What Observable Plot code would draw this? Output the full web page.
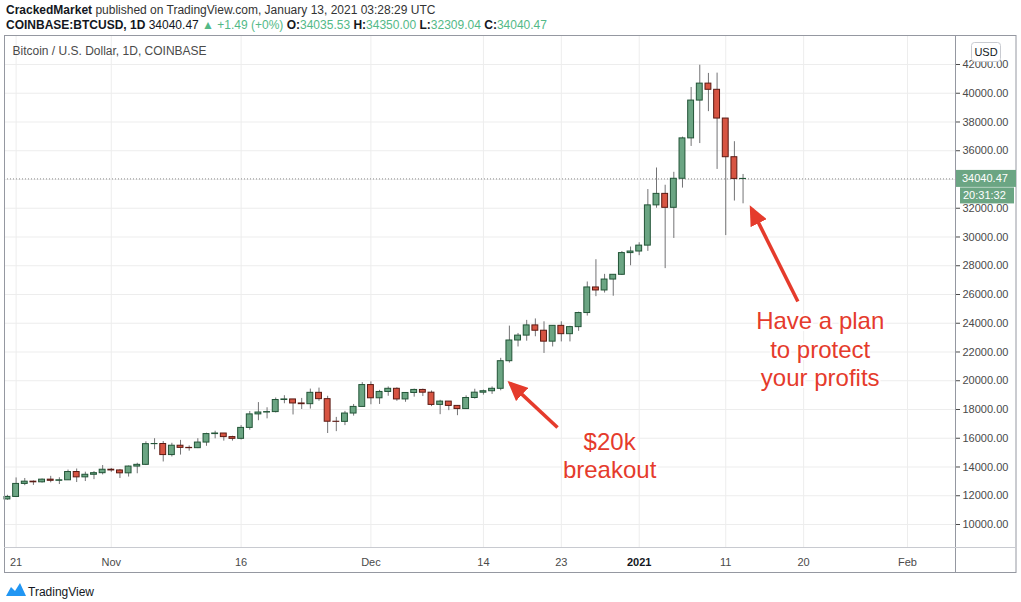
<!DOCTYPE html>
<html><head><meta charset="utf-8">
<script src="https://cdn.jsdelivr.net/npm/d3@7"></script>
<script src="https://cdn.jsdelivr.net/npm/@observablehq/plot@0.6"></script>
<style>
body{margin:0;background:#fff;font-family:"Liberation Sans",Arial,sans-serif;color:#131722;}
#hdr{height:35px;position:relative;font-size:12px;}
#hdr div{position:absolute;left:6px;white-space:nowrap;}
#l1{top:3px;color:#333;}
#l2{top:18px;color:#131722;}
.g{color:#53b987;}
#chart svg{display:block;}
#ftr{height:27px;position:relative;}
#ftr svg{position:absolute;left:6px;top:7px;}
#ftr span{position:absolute;left:28px;top:10px;font-size:12px;color:#131722;}
</style></head><body>
<div id="hdr">
<div id="l1"><b style="color:#131722">CrackedMarket</b> published on TradingView.com, January 13, 2021 03:28:29 UTC</div>
<div id="l2"><b>COINBASE:BTCUSD, 1D</b> 34040.47 <span class="g">▲ +1.49 (+0%)</span> <b>O:</b><span class="g">34035.53</span> <b>H:</b><span class="g">34350.00</span> <b>L:</b><span class="g">32309.04</span> <b>C:</b><span class="g">34040.47</span></div>
</div>
<div id="chart"></div>
<div id="ftr"><svg width="20" height="14" viewBox="0 0 20 14"><path d="M0,14 L5,5 L9,9 L14,1 L20,14 Z" fill="#2196f3"/></svg><span>TradingView</span></div>
<script>
// ---- data ----
const dates = ["2020-10-20","2020-10-21","2020-10-22","2020-10-23","2020-10-24","2020-10-25","2020-10-26","2020-10-27","2020-10-28","2020-10-29","2020-10-30","2020-10-31",
"2020-11-01","2020-11-02","2020-11-03","2020-11-04","2020-11-05","2020-11-06","2020-11-07","2020-11-08","2020-11-09","2020-11-10","2020-11-11","2020-11-12","2020-11-13","2020-11-14","2020-11-15","2020-11-16","2020-11-17","2020-11-18","2020-11-19","2020-11-20","2020-11-21","2020-11-22","2020-11-23","2020-11-24","2020-11-25","2020-11-26","2020-11-27","2020-11-28","2020-11-29","2020-11-30",
"2020-12-01","2020-12-02","2020-12-03","2020-12-04","2020-12-05","2020-12-06","2020-12-07","2020-12-08","2020-12-09","2020-12-10","2020-12-11","2020-12-12","2020-12-13","2020-12-14","2020-12-15","2020-12-16","2020-12-17","2020-12-18","2020-12-19","2020-12-20","2020-12-21","2020-12-22","2020-12-23","2020-12-24","2020-12-25","2020-12-26","2020-12-27","2020-12-28","2020-12-29","2020-12-30","2020-12-31",
"2021-01-01","2021-01-02","2021-01-03","2021-01-04","2021-01-05","2021-01-06","2021-01-07","2021-01-08","2021-01-09","2021-01-10","2021-01-11","2021-01-12","2021-01-13"];
const open  = [11745,11916,12823,12980,12935,13120,13040,13075,13650,13280,13460,13570,
13810,13760,13560,14030,14150,15590,15600,14830,15480,15330,15310,15700,16290,16330,16080,15960,16720,17660,17790,17820,18660,18700,18420,18370,19160,18720,17150,17140,17720,18180,
19700,18780,19220,19440,18700,19150,19360,19170,18320,18550,18250,18030,18800,19170,19270,19440,21360,22800,23140,23850,23480,22720,23820,23240,23730,24710,26490,26280,27040,27370,28880,
28990,29400,32200,33000,32030,34050,36860,39490,40670,40240,38240,35550,34035.53];
const high  = [12030,13240,13200,13030,13170,13350,13250,13790,13860,13640,13680,14100,
13900,13830,14070,14260,15750,15970,15770,15650,15850,15470,15970,16350,16490,16330,16140,16880,17860,18480,18120,18800,18960,18700,18770,19420,19490,18920,17450,17870,18350,19870,
19920,19330,19570,19510,19180,19420,19420,19290,18640,18560,18270,18950,19410,19350,19570,21560,23800,23290,24200,24300,24100,23840,24100,23790,24770,26870,28420,27400,27370,28990,29300,
29600,33300,34800,33600,34500,36950,40400,41950,41380,41400,38240,36630,34350];
const low   = [11685,11900,12700,12720,12880,12900,12780,13060,12920,12990,13120,13450,
13630,13200,13300,13530,14100,15200,14350,14700,14830,15100,15280,15440,15960,15800,15800,15880,16560,17220,17350,17760,18400,17620,18000,18030,18570,16330,16460,16880,17540,18180,
18330,18350,18920,18570,18500,18860,18900,18200,17640,17920,17570,18010,18720,19000,19050,19300,21230,22350,22750,23060,21900,22350,22700,22700,23440,24500,25850,26100,25880,27320,28000,
28700,29000,32000,27800,29900,33400,36300,36500,38720,34700,30100,32500,32309.04];
const close = [11916,12823,12980,12935,13120,13040,13075,13650,13280,13460,13570,13810,
13760,13560,14030,14150,15590,15600,14830,15480,15330,15310,15700,16290,16330,16080,15960,16720,17660,17790,17820,18660,18700,18420,18370,19160,18720,17150,17140,17720,18180,19700,
18780,19220,19440,18700,19150,19360,19170,18320,18550,18250,18030,18800,19170,19270,19440,21360,22800,23140,23850,23480,22720,23820,23240,23730,24710,26490,26280,27040,27370,28880,28990,
29400,32200,33000,32030,34050,36860,39490,40670,40240,38240,35550,34040,34040.47];

const yTicks = [10000,12000,14000,16000,18000,20000,22000,24000,26000,28000,30000,32000,34000,36000,38000,40000,42000];
const xTickDates  = ["2020-10-21","2020-11-01","2020-11-16","2020-12-01","2020-12-14","2020-12-23","2021-01-01","2021-01-11","2021-01-20","2021-02-01"];
const xTickLabels = ["21","Nov","16","Dec","14","23","2021","11","20","Feb"];

const chartTitle = "Bitcoin / U.S. Dollar, 1D, COINBASE";
const lastPrice = 34040.47;
const countdown = "20:31:32";

const arrowsData = [
  {x1:"2020-12-22T13:30Z", y1:16750, x2:"2020-12-17T03:00Z", y2:19800},
  {x1:"2021-01-19T08:00Z", y1:25510, x2:"2021-01-13T23:30Z", y2:31960}
];
const notes = [
  {x:"2020-12-28T14:00Z", y:14830, text:"$20k\nbreakout"},
  {x:"2021-01-21T22:00Z", y:22240, text:"Have a plan\nto protect\nyour profits"}
];

// ---- build ----
const DAY = 864e5;
const rows = dates.map((d,i)=>({date:new Date(d), open:open[i], high:high[i], low:low[i], close:close[i]}));
const UP = "#6ba583", UPB = "#225437", DN = "#d75442", DNB = "#5b1a13", RED = "#e53b2c";
const labelMap = new Map(xTickDates.map((d,i)=>[+new Date(d), xTickLabels[i]]));

const chart = Plot.plot({
  width: 1021, height: 540,
  marginLeft: 4, marginRight: 66, marginTop: 0, marginBottom: 28,
  style: {fontFamily: "Liberation Sans, Arial, sans-serif", fontSize: "11px", color: "#4a4a4a", background: "white"},
  color: {type: "identity"},
  x: {type: "utc", domain: [new Date("2020-10-19T15:50Z"), new Date("2021-02-06T13:10Z")],
      ticks: xTickDates.map(d=>new Date(d)), tickFormat: d=>labelMap.get(+d), tickSize: 0, tickPadding: 11, label: null},
  y: {domain: [8400, 44017], ticks: yTicks, tickFormat: d=>d.toFixed(2), axis: "right", tickSize: 4, tickPadding: 3, label: null},
  marks: [
    Plot.ruleY(yTicks, {stroke: "#ededed"}),
    Plot.ruleX(xTickDates.map(d=>new Date(d)), {stroke: "#ededed"}),
    Plot.ruleY([lastPrice], {stroke: "#8a8a8a", strokeDasharray: "1,2"}),
    Plot.ruleX(rows, {x: "date", y1: "low", y2: "high", stroke: "#737375"}),
    Plot.rect(rows, {x1: d=>new Date(+d.date - 0.34*DAY), x2: d=>new Date(+d.date + 0.34*DAY),
      y1: "open", y2: "close", fill: d=>d.close>=d.open?UP:DN, stroke: d=>d.close>=d.open?UPB:DNB, strokeWidth: 1}),
    Plot.text([chartTitle], {frameAnchor: "top-left", dx: 8, dy: 11, fontSize: 12, fill: "#4a4a4a"}),
    Plot.link(arrowsData, {x1: d=>new Date(d.x1), y1: "y1", x2: d=>new Date(d.x2), y2: "y2", stroke: RED, strokeWidth: 3.5}),
    Plot.text(notes, {x: d=>new Date(d.x), y: "y", text: "text", fill: RED, fontSize: 24, lineHeight: 1.19,
      fontFamily: "Liberation Sans, Arial, sans-serif", stroke: "white", strokeWidth: 4, paintOrder: "stroke"})
  ]
});

const svg = d3.select(chart);
// arrow heads
const defs = svg.insert("defs", ":first-child");
defs.append("marker").attr("id","ah").attr("viewBox","0 0 20 18").attr("refX",16).attr("refY",9)
  .attr("markerWidth",20).attr("markerHeight",18).attr("markerUnits","userSpaceOnUse").attr("orient","auto")
  .append("path").attr("d","M0,0L20,9L0,18Z").attr("fill",RED);
svg.selectAll('g[aria-label="link"] path').attr("marker-end","url(#ah)");
// bold year label
svg.selectAll("text").filter(function(){return this.textContent==="2021";}).attr("font-weight","bold").style("fill","#131722");
// frame & separators
const plotR = 1021-66, plotB = 540-28;
svg.append("rect").attr("x",4.5).attr("y",0.5).attr("width",1016-4.5).attr("height",537).attr("fill","none").attr("stroke","#9598a1");
svg.append("line").attr("x1",plotR+0.5).attr("x2",plotR+0.5).attr("y1",0).attr("y2",538).attr("stroke","#9598a1");
svg.append("line").attr("x1",4).attr("x2",1016).attr("y1",plotB+0.5).attr("y2",plotB+0.5).attr("stroke","#c8cad0");
// USD button
const ub = svg.append("g");
ub.append("rect").attr("x",971.5).attr("y",7.5).attr("width",29).attr("height",19).attr("rx",3).attr("fill","white").attr("stroke","#c9cbd1");
ub.append("text").attr("x",986).attr("y",21).attr("text-anchor","middle").attr("font-size",11).attr("fill","#131722").text("USD");
// last price label
const yp = chart.scale("y").apply(lastPrice);
const pl = svg.append("g").attr("font-size",11).attr("fill","white").attr("text-anchor","start");
pl.append("rect").attr("x",plotR+1).attr("y",yp-8.5).attr("width",60).attr("height",17).attr("fill",UP);
pl.append("text").attr("x",plotR+7).attr("y",yp+4).attr("text-anchor","start").text(lastPrice.toFixed(2));
pl.append("rect").attr("x",plotR+5).attr("y",yp+9).attr("width",54).attr("height",16).attr("fill",UP);
pl.append("text").attr("x",plotR+8).attr("y",yp+21).attr("text-anchor","start").text(countdown);

document.getElementById("chart").appendChild(chart);
</script>
</body></html>
